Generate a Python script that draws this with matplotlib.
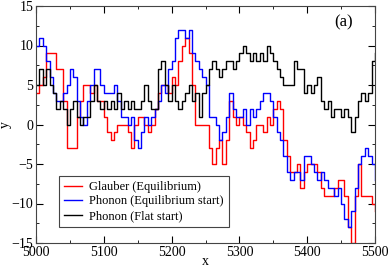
import numpy as np
import matplotlib
matplotlib.use("Agg")
import matplotlib.pyplot as plt

plt.rcParams['font.family'] = ['Liberation Serif', 'DejaVu Serif']

# sample positions (every 5 sweeps) and the three traces
x = np.arange(5000, 5501, 5)

glauber_eq = [4, 5, 6, 9, 9, 9, 7, 7, 3, -3,
              -3, -3, 1, 3, 5, 5, 4, 5, 3, 3,
              1, -1, -2, -1, 0, 0, 0, -1, -3, 0,
              1, 1, 0, -1, 0, 2, 4, 5, 5, 4,
              6, 5, 8, 10, 11, 9, 5, 0, 0, 0,
              0, -3, -5, -3, -2, -5, -2, 3, 1, 0,
              1, 0, -1, -3, -2, 0, 0, -1, 1, 0,
              2, 3, 2, -2, -4, -6, -6, -5, -8, -6,
              -5, -5, -5, -6, -8, -9, -9, -9, -8, -7,
              -7, -9, -13, -15, -9, -5, -9, -9, -9, -10,
              -11]

phonon_eq = [10, 11, 10, 8, 6, 4, 3, 3, 4, 5,
             7, 6, 3, 1, 0, 3, 5, 7, 7, 5,
             4, 4, 4, 5, 3, 1, 1, 0, 1, -2,
             -3, -1, 1, 0, 1, 2, 3, 5, 4, 7,
             8, 11, 12, 12, 11, 12, 9, 8, 7, 6,
             5, 1, 1, 0, -2, -1, 1, 4, 2, 1,
             1, 2, 0, 2, 1, 2, 3, 4, 4, 3,
             1, -1, -2, -4, -6, -7, -6, -6, -7, -4,
             -4, -5, -6, -7, -6, -7, -8, -8, -9, -8,
             -10, -12, -13, -11, -8, -5, -4, -3, -4, -5,
             -7]

phonon_flat = [5, 7, 5, 7, 5, 4, 2, 3, 2, 0,
               2, 3, 1, 0, 1, 1, 3, 5, 3, 2,
               3, 2, 3, 2, 4, 2, 3, 2, 3, 2,
               2, 3, 5, 3, 2, 2, 7, 8, 5, 3,
               5, 3, 2, 3, 4, 5, 3, 4, 1, 4,
               5, 7, 8, 7, 6, 7, 8, 8, 7, 8,
               9, 10, 9, 8, 9, 8, 9, 8, 10, 9,
               8, 7, 6, 5, 5, 5, 8, 7, 7, 4,
               5, 4, 5, 6, 3, 2, 3, 1, 2, 2,
               1, 2, 1, -1, 1, 3, 4, 3, 4, 8,
               9]

fig = plt.figure(figsize=(3.9, 2.67), dpi=100)
ax = fig.add_axes([36/390, 1-243/267, (375-36)/390, (243-6)/267])

ax.step(x, glauber_eq, where='post', color='#ff0000', lw=1.0, label='Glauber (Equilibrium)')
ax.step(x, phonon_eq, where='post', color='#0000ff', lw=1.0, label='Phonon (Equilibrium start)')
ax.step(x, phonon_flat, where='post', color='black', lw=1.0, label='Phonon (Flat start)')

ax.set_xlim(5000, 5500)
ax.set_ylim(-15, 15)
ax.set_xticks([5000, 5100, 5200, 5300, 5400, 5500])
ax.set_xticks(np.arange(5050, 5500, 100), minor=True)
ax.set_yticks([-15, -10, -5, 0, 5, 10, 15])
ax.set_yticks(np.arange(-12.5, 15, 5), minor=True)
ax.tick_params(which='both', direction='in', top=True, right=True, labelsize=10, pad=2)
ax.tick_params(which='major', length=5)
ax.tick_params(which='minor', length=2.5)
for s in ax.spines.values():
    s.set_color('#444444')

ax.set_xlabel('x', fontsize=10)
ax.xaxis.set_label_coords(0.5, -0.05)
ax.set_ylabel('y', fontsize=10)
ax.yaxis.set_label_coords(-0.07, 0.5)
ax.text(0.935, 0.965, '(a)', transform=ax.transAxes, ha='right', va='top', fontsize=12)

leg = ax.legend(loc='lower left', bbox_to_anchor=(0.068, 0.068), borderaxespad=0,
                fontsize=9, frameon=True, fancybox=False, framealpha=1, edgecolor='#444444',
                handlelength=1.4, handletextpad=0.6, borderpad=0.4, labelspacing=0.2)
leg.get_frame().set_linewidth(0.8)

fig.savefig('out.png', dpi=100)
